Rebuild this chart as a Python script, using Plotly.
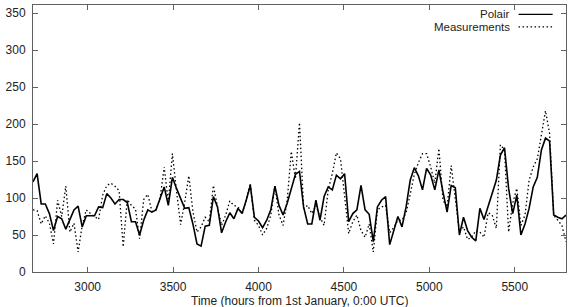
import plotly.graph_objects as go

# time axis: one sample every 24 hours
time_hours = list(range(2680, 5801, 24))

polair = [122, 133, 92, 92, 79, 56, 75, 72, 58, 72,
          84, 89, 61, 76, 76, 76, 88, 87, 106, 100,
          92, 98, 98, 94, 68, 68, 50, 70, 84, 81,
          84, 100, 115, 90, 128, 113, 99, 86, 87, 65,
          38, 35, 62, 63, 102, 88, 53, 68, 80, 72,
          86, 79, 97, 117, 74, 69, 60, 70, 84, 116,
          90, 77, 93, 111, 132, 136, 88, 65, 65, 97,
          70, 102, 115, 111, 131, 126, 133, 68, 79, 84,
          117, 84, 78, 41, 88, 97, 102, 37, 56, 75,
          61, 88, 124, 141, 130, 111, 140, 131, 111, 138,
          108, 81, 117, 114, 50, 74, 56, 47, 42, 86,
          71, 88, 104, 124, 158, 168, 113, 79, 104, 50,
          65, 86, 115, 128, 165, 181, 177, 77, 74, 72,
          77]

measurements = [84, 83, 65, 76, 66, 38, 97, 75, 116, 54,
                66, 27, 63, 84, 79, 75, 71, 104, 117, 120,
                116, 110, 34, 98, 90, 85, 45, 98, 105, 82,
                84, 100, 142, 94, 160, 110, 64, 94, 130, 82,
                54, 61, 74, 68, 117, 88, 63, 77, 96, 90,
                88, 79, 97, 120, 70, 63, 50, 59, 77, 116,
                77, 63, 97, 163, 126, 202, 86, 90, 79, 90,
                74, 63, 111, 133, 161, 153, 102, 52, 68, 77,
                56, 47, 65, 27, 84, 88, 90, 53, 60, 70,
                70, 80, 105, 132, 148, 160, 160, 142, 120, 167,
                97, 88, 144, 99, 54, 61, 44, 47, 56, 54,
                47, 80, 77, 59, 172, 165, 54, 93, 113, 63,
                77, 124, 142, 153, 187, 218, 187, 77, 70, 63,
                41]

x_ticks = [3000, 3500, 4000, 4500, 5000, 5500]
y_ticks = [0, 50, 100, 150, 200, 250, 300, 350]
series_names = ["Polair", "Measurements"]
x_title = "Time (hours from 1st January, 0:00 UTC)"

FONT = "Liberation Sans, Arial, sans-serif"
FRAME = "#606060"
FS = 12
DOT = "1.5px,2.5px"

fig = go.Figure()
fig.add_trace(go.Scatter(x=time_hours, y=measurements, mode="lines",
                         name=series_names[1],
                         line=dict(color="black", width=1.3, dash=DOT)))
fig.add_trace(go.Scatter(x=time_hours, y=polair, mode="lines",
                         name=series_names[0],
                         line=dict(color="black", width=1.6)))

axis_common = dict(showline=True, linecolor=FRAME, linewidth=1, mirror="ticks",
                   ticks="inside", ticklen=5, tickcolor=FRAME, tickwidth=1,
                   showgrid=False, zeroline=False, automargin=False,
                   tickfont=dict(family=FONT, size=FS, color="#222"))

fig.update_xaxes(range=[2680, 5800], tickvals=x_ticks, ticklabelstandoff=4,
                 **axis_common)
fig.update_yaxes(range=[0, 361], tickvals=y_ticks, ticklabelstandoff=4, **axis_common)

# x-axis title placed as paper annotation
fig.add_annotation(xref="paper", yref="paper", x=0.5, y=-0.109, text=x_title,
                   showarrow=False, xanchor="center", yanchor="middle",
                   font=dict(family=FONT, size=FS, color="#222"))

# gnuplot-style key: text right-aligned, sample line to the right
legend_rows = [(series_names[0], "solid", 0.965), (series_names[1], DOT, 0.918)]
for name, dash, yy in legend_rows:
    fig.add_annotation(xref="paper", yref="paper", x=0.898, y=yy, text=name,
                       showarrow=False, xanchor="right", yanchor="middle",
                       font=dict(family=FONT, size=11.5, color="#222"))
    fig.add_shape(type="line", xref="paper", yref="paper", x0=0.911, x1=0.975,
                  y0=yy, y1=yy, line=dict(color="black", width=1.3, dash=dash))

fig.update_layout(width=568, height=307, margin=dict(l=33, r=2, t=5, b=35),
                  paper_bgcolor="white", plot_bgcolor="white", showlegend=False,
                  font=dict(family=FONT))

fig.write_html("out.html")
